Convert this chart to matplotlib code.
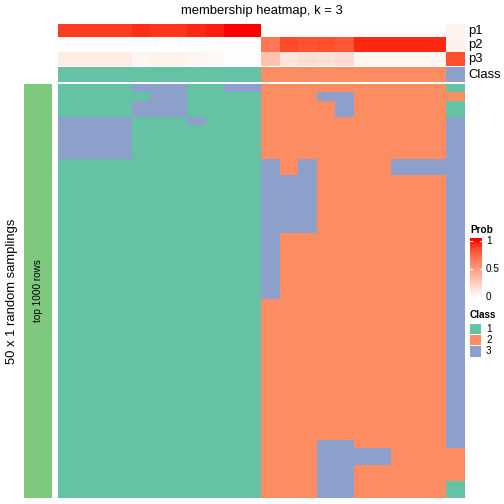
import numpy as np
import matplotlib
matplotlib.use("Agg")
import matplotlib.pyplot as plt
from matplotlib.colors import ListedColormap, to_rgb

plt.rcParams['font.family'] = ['Liberation Sans', 'DejaVu Sans']

# membership probabilities of the 22 samples
p1 = [0.9, 0.9, 0.9, 0.9, 0.94, 0.92, 0.92, 0.95, 0.97, 1.0, 1.0,
      0, 0, 0, 0, 0, 0, 0, 0, 0, 0, 0.06]
p2 = [0, 0, 0, 0, 0, 0, 0, 0, 0, 0, 0,
      0.68, 0.86, 0.83, 0.84, 0.81, 0.95, 0.95, 0.95, 0.95, 0.95, 0.08]
p3 = [0.1, 0.1, 0.1, 0.1, 0.05, 0.07, 0.07, 0.05, 0.03, 0, 0,
      0.32, 0.14, 0.17, 0.16, 0.19, 0.05, 0.05, 0.05, 0.05, 0.05, 0.84]
sample_class = [1, 1, 1, 1, 1, 1, 1, 1, 1, 1, 1,
                2, 2, 2, 2, 2, 2, 2, 2, 2, 2, 3]

# class found in each of the 50 random samplings (rows) for every sample (columns)
samplings = [
    "1111333113322222222221",
    "1111133111122233222222",
    "1111333111122223222221",
    "1111333111122223222221",
    "3333111311122222222223",
    "3333111111122222222223",
    "3333111111122222222223",
    "3333111111122222222223",
    "3333111111122222222223",
    "1111111111132322223333",
    "1111111111132322223333",
    "1111111111133322222223",
    "1111111111133322222223",
    "1111111111133322222223",
    "1111111111133322222223",
    "1111111111133322222223",
    "1111111111133322222223",
    "1111111111133322222223",
    "1111111111132222222223",
    "1111111111132222222223",
    "1111111111132222222223",
    "1111111111132222222223",
    "1111111111132222222223",
    "1111111111132222222223",
    "1111111111132222222223",
    "1111111111132222222223",
    "1111111111122222222223",
    "1111111111122222222223",
    "1111111111122222222223",
    "1111111111122222222223",
    "1111111111122222222223",
    "1111111111122222222223",
    "1111111111122222222223",
    "1111111111122222222223",
    "1111111111122222222223",
    "1111111111122222222223",
    "1111111111122222222223",
    "1111111111122222222223",
    "1111111111122222222223",
    "1111111111122222222223",
    "1111111111122222222223",
    "1111111111122222222223",
    "1111111111122222222223",
    "1111111111122233222223",
    "1111111111122233332222",
    "1111111111122233332222",
    "1111111111122233222222",
    "1111111111122233222222",
    "1111111111122233222221",
    "1111111111122233222221",
]
class_labels = ["1", "2", "3"]
class_colors = ["#66C2A5", "#FC8D62", "#8DA0CB"]


# white -> red ramp interpolated in Lab space (like colorRamp2)
def srgb_to_lab(c):
    c = np.asarray(c, float)
    lin = np.where(c <= 0.04045, c / 12.92, ((c + 0.055) / 1.055) ** 2.4)
    m = np.array([[0.4124, 0.3576, 0.1805],
                  [0.2126, 0.7152, 0.0722],
                  [0.0193, 0.1192, 0.9505]])
    xyz = m @ lin / np.array([0.95047, 1.0, 1.08883])
    f = np.where(xyz > 0.008856, np.cbrt(xyz), 7.787 * xyz + 16 / 116)
    return np.array([116 * f[1] - 16, 500 * (f[0] - f[1]), 200 * (f[1] - f[2])])


def lab_to_srgb(lab):
    L, a, b = lab
    fy = (L + 16) / 116
    f = np.array([fy + a / 500, fy, fy - b / 200])
    xyz = np.where(f > 0.2069, f ** 3, (f - 16 / 116) / 7.787) * np.array([0.95047, 1.0, 1.08883])
    m = np.array([[3.2406, -1.5372, -0.4986],
                  [-0.9689, 1.8758, 0.0415],
                  [0.0557, -0.2040, 1.0572]])
    lin = np.clip(m @ xyz, 0, 1)
    return np.where(lin <= 0.0031308, 12.92 * lin, 1.055 * lin ** (1 / 2.4) - 0.055).clip(0, 1)


lab_w, lab_r = srgb_to_lab(to_rgb("white")), srgb_to_lab(to_rgb("red"))
prob_cmap = ListedColormap([lab_to_srgb(lab_w + t * (lab_r - lab_w)) for t in np.linspace(0, 1, 256)])
class_cmap = ListedColormap(class_colors)

W = H = 504
fig = plt.figure(figsize=(5.04, 5.04), dpi=100)


def px_axes(x0, y0, x1, y1):
    ax = fig.add_axes([x0 / W, 1 - y1 / H, (x1 - x0) / W, (y1 - y0) / H])
    ax.set_axis_off()
    return ax


def px_text(x, y, s, **kw):
    fig.text(x / W, 1 - y / H, s, **kw)


# probability annotation
ax_p = px_axes(58, 24, 465, 66)
ax_p.imshow(np.array([p1, p2, p3]), cmap=prob_cmap, vmin=0, vmax=1,
            aspect='auto', interpolation='nearest')

# class annotation
ax_c = px_axes(58, 67, 465, 82)
ax_c.imshow(np.array([sample_class]) - 1, cmap=class_cmap, vmin=0, vmax=2,
            aspect='auto', interpolation='nearest')

# main membership heatmap
mat = np.array([[int(ch) for ch in row] for row in samplings])
ax_m = px_axes(58, 84, 465, 498)
ax_m.imshow(mat - 1, cmap=class_cmap, vmin=0, vmax=2,
            aspect='auto', interpolation='nearest')

# left row annotation
ax_g = px_axes(24, 84, 52, 498)
ax_g.imshow([[0]], cmap=ListedColormap(["#7FC97F"]), aspect='auto')
ax_g.text(0.5, 0.5, "top 1000 rows", rotation=90, ha='center', va='center',
          fontsize=7.2, transform=ax_g.transAxes)

fs = 9.4
px_text(261.5, 11, "membership heatmap, k = 3", ha='center', va='center', fontsize=fs)
for y, s in zip([31, 45, 59, 74.5], ["p1", "p2", "p3", "Class"]):
    px_text(468, y, s, ha='left', va='center', fontsize=fs)
px_text(12, 291, "50 x 1 random samplings", rotation=90, ha='center', va='center', fontsize=fs)

# Prob legend
px_text(470, 230.5, "Prob", ha='left', va='center', fontsize=7.2, fontweight='bold')
ax_cb = px_axes(470, 238, 482, 300)
lo, hi = -0.045, 1.047
grad = np.linspace(hi, lo, 200).reshape(-1, 1).clip(0, 1)
ax_cb.imshow(grad, cmap=prob_cmap, vmin=0, vmax=1, aspect='auto',
             extent=[0, 1, lo, hi], interpolation='bilinear')
ax_cb.set_xlim(0, 1)
ax_cb.set_ylim(lo, hi)
for v, lab in zip([0, 0.5, 1], ["0", "0.5", "1"]):
    ax_cb.plot([0, 0.2], [v, v], color='white', lw=0.8)
    ax_cb.plot([0.8, 1], [v, v], color='white', lw=0.8)
    px_text(486, 297.5 - v * 56.8, lab, ha='left', va='center', fontsize=7.2)

# Class legend
px_text(470, 314.5, "Class", ha='left', va='center', fontsize=7.2, fontweight='bold')
for i, (lab, col) in enumerate(zip(class_labels, class_colors)):
    y0 = 323.5 + i * 11
    ax_k = px_axes(470, y0, 481, y0 + 11)
    ax_k.imshow([[0]], cmap=ListedColormap([col]), aspect='auto')
    px_text(486, y0 + 5.5, lab, ha='left', va='center', fontsize=7.2)

fig.savefig("out.png", dpi=100)
